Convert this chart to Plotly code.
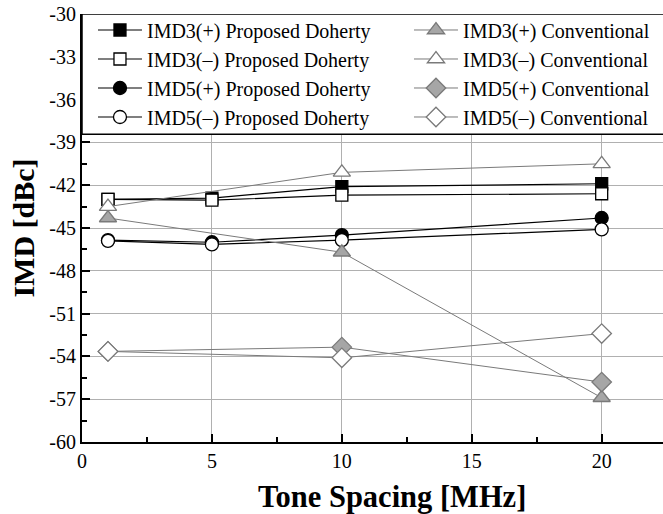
import plotly.graph_objects as go

# Tone spacing (MHz) for each measurement set
spacing_proposed = [1, 5, 10, 20]
spacing_conventional = [1, 10, 20]

# IMD levels in dBc
imd3_plus_proposed = [-43.0, -42.9, -42.1, -41.9]
imd3_minus_proposed = [-43.0, -43.05, -42.7, -42.6]
imd5_plus_proposed = [-45.85, -46.0, -45.5, -44.3]
imd5_minus_proposed = [-45.9, -46.15, -45.85, -45.1]

imd3_plus_conventional = [-44.3, -46.7, -56.9]
imd3_minus_conventional = [-43.5, -41.1, -40.5]
imd5_plus_conventional = [-53.65, -53.35, -55.8]
imd5_minus_conventional = [-53.65, -54.1, -52.4]

series_names = [
    "IMD3(+) Proposed Doherty",
    "IMD3(\u2013) Proposed Doherty",
    "IMD5(+) Proposed Doherty",
    "IMD5(\u2013) Proposed Doherty",
    "IMD3(+) Conventional",
    "IMD3(\u2013) Conventional",
    "IMD5(+) Conventional",
    "IMD5(\u2013) Conventional",
]

# Axis ticks, written with a plain hyphen for negatives
y_tick_values = [-60, -57, -54, -51, -48, -45, -42, -39, -36, -33, -30]
y_tick_labels = ["-60", "-57", "-54", "-51", "-48", "-45", "-42", "-39", "-36", "-33", "-30"]
x_tick_values = [0, 5, 10, 15, 20]
x_tick_labels = ["0", "5", "10", "15", "20"]

FONT = "Liberation Serif"
DARK_GRAY = "#7a7a7a"
FILL_GRAY = "#a6a6a6"

fig = go.Figure()


def add_series(x, y, name, symbol, fill, edge, line_color, line_width, size, legend):
    fig.add_trace(go.Scatter(
        x=x, y=y, name=name, mode="lines+markers",
        line=dict(color=line_color, width=line_width),
        marker=dict(symbol=symbol, size=size, color=fill,
                    line=dict(color=edge, width=1.3)),
        legend=legend,
    ))


add_series(spacing_proposed, imd3_plus_proposed, series_names[0],
           "square", "black", "black", "black", 1.2, 12, "legend")
add_series(spacing_proposed, imd3_minus_proposed, series_names[1],
           "square", "white", "black", "black", 1.2, 12, "legend")
add_series(spacing_proposed, imd5_plus_proposed, series_names[2],
           "circle", "black", "black", "black", 1.2, 13, "legend")
add_series(spacing_proposed, imd5_minus_proposed, series_names[3],
           "circle", "white", "black", "black", 1.2, 13, "legend")
add_series(spacing_conventional, imd3_plus_conventional, series_names[4],
           "triangle-up", FILL_GRAY, DARK_GRAY, DARK_GRAY, 1.0, 15, "legend2")
add_series(spacing_conventional, imd3_minus_conventional, series_names[5],
           "triangle-up", "white", DARK_GRAY, DARK_GRAY, 1.0, 15, "legend2")
add_series(spacing_conventional, imd5_plus_conventional, series_names[6],
           "diamond", FILL_GRAY, DARK_GRAY, DARK_GRAY, 1.0, 15, "legend2")
add_series(spacing_conventional, imd5_minus_conventional, series_names[7],
           "diamond", "white", DARK_GRAY, DARK_GRAY, 1.0, 15, "legend2")

# White panel that holds the legend across the top of the plot
fig.add_shape(type="rect", xref="paper", yref="y",
              x0=0, x1=1.02, y0=-38.43, y1=-30,
              fillcolor="white", line=dict(color="black", width=1.5),
              layer="above")

legend_style = dict(
    orientation="v", yanchor="top", xanchor="left",
    bgcolor="rgba(0,0,0,0)", borderwidth=0,
    font=dict(family=FONT, size=20, color="black"),
    itemwidth=44, tracegroupgap=0,
)

fig.update_layout(
    width=663, height=514,
    margin=dict(l=82, r=0, t=14, b=72),
    paper_bgcolor="white", plot_bgcolor="white",
    font=dict(family=FONT, size=20, color="black"),
    showlegend=True,
    legend=dict(x=0.0189, y=1.0082, **legend_style),
    legend2=dict(x=0.5628, y=1.0082, **legend_style),
)

# x-axis title, centred under the full axis span
fig.add_annotation(
    text="<b>Tone Spacing [MHz]</b>", xref="paper", yref="paper",
    x=0.5336, y=0, xanchor="center", yanchor="middle", yshift=-55,
    showarrow=False, font=dict(family=FONT, size=30.5, color="black"),
)

fig.update_xaxes(
    range=[0, 22.36], tickmode="array",
    tickvals=x_tick_values, ticktext=x_tick_labels,
    ticks="inside", ticklen=8, tickwidth=1.6, tickcolor="black",
    showline=True, linecolor="black", linewidth=2,
    showgrid=True, gridcolor="#b0b0b0", gridwidth=1,
    zeroline=False,
    minor=dict(ticks="inside", ticklen=5, dtick=2.5, tick0=0,
               tickcolor="black", showgrid=False),
    tickfont=dict(family=FONT, size=20),
)

fig.update_yaxes(
    range=[-60, -30], tickmode="array",
    tickvals=y_tick_values, ticktext=y_tick_labels,
    ticks="inside", ticklen=8, tickwidth=1.6, tickcolor="black",
    showline=True, linecolor="black", linewidth=2,
    showgrid=True, gridcolor="#b0b0b0", gridwidth=1,
    zeroline=False,
    minor=dict(ticks="inside", ticklen=5, dtick=1.5, tick0=-60,
               tickcolor="black", showgrid=False),
    tickfont=dict(family=FONT, size=20),
    title=dict(text="<b>IMD [dBc]</b>",
               font=dict(family=FONT, size=30), standoff=6),
)

fig.write_html("out.html")
